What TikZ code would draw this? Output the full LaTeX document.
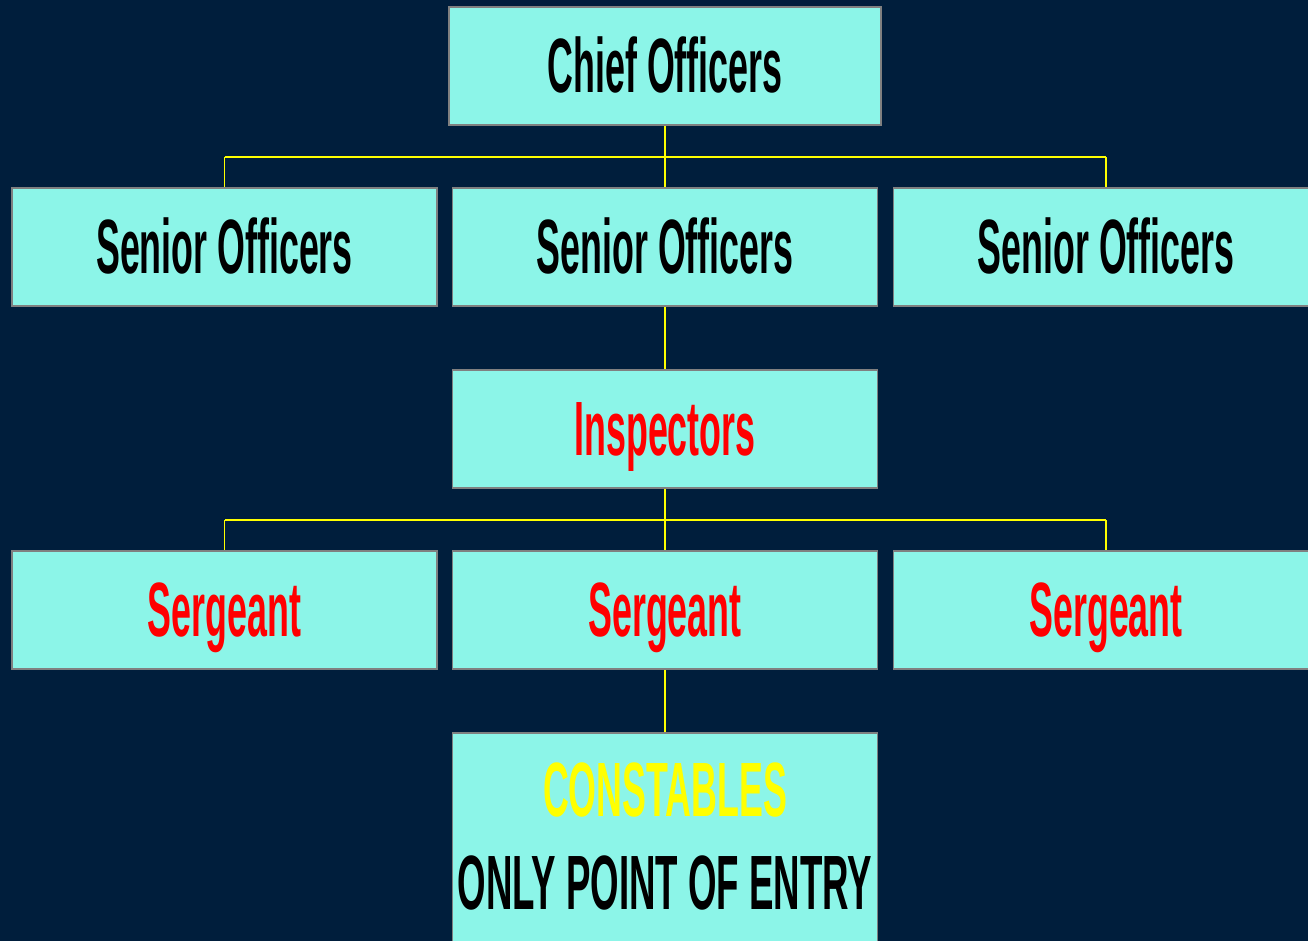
\documentclass[tikz,border=0pt]{standalone}
\usepackage{fontspec}
\setmainfont{Liberation Sans}
\definecolor{bgnavy}{RGB}{0,30,60}
\definecolor{boxfill}{RGB}{140,245,232}
\definecolor{boxedge}{RGB}{128,128,128}
\definecolor{linkyellow}{RGB}{255,255,0}
\definecolor{txtred}{RGB}{255,0,0}
\newcommand{\cond}[1]{\scalebox{0.465}[1]{#1}}
\tikzset{
  rankbox/.style={rectangle, draw=boxedge, line width=1.5pt, fill=boxfill,
    minimum width=425pt, minimum height=118pt, inner sep=0pt,
    text height=53pt, text depth=0pt,
    font=\fontsize{77}{93}\selectfont\bfseries},
  link/.style={draw=linkyellow, line width=1.3pt},
  bar/.style={draw=linkyellow, line width=2pt},
  lbl/.style={inner sep=0pt, font=\fontsize{77}{93}\selectfont\bfseries, align=center},
}
\begin{document}
\begin{tikzpicture}[x=1pt,y=-1pt]
\useasboundingbox (0,0) rectangle (1308,941);
\clip (0,0) rectangle (1308,941);
\fill[bgnavy] (0,0) rectangle (1308,941);

\node[rankbox, minimum width=432pt] (chief) at (665,66) {\cond{Chief Officers}};

\node[rankbox] (sen1) at (224.5,247) {\cond{Senior Officers}};
\node[rankbox] (sen2) at (665,247) {\cond{Senior Officers}};
\node[rankbox] (sen3) at (1106,247) {\cond{Senior Officers}};

\node[rankbox, text=txtred] (insp) at (665,429) {\cond{Inspectors}};

\node[rankbox, text=txtred] (serg1) at (224.5,610) {\cond{Sergeant}};
\node[rankbox, text=txtred] (serg2) at (665,610) {\cond{Sergeant}};
\node[rankbox, text=txtred] (serg3) at (1106,610) {\cond{Sergeant}};

\node[rankbox, minimum height=230pt, text height=0pt] (const) at (665,848) {};
\node[lbl] (consttxt) at (665,836) {\cond{\textcolor{linkyellow}{CONSTABLES}}\\\scalebox{0.476}[1]{ONLY POINT OF ENTRY}};

\coordinate (bar1) at (665,157);
\coordinate (bar2) at (665,520);

% top tier
\draw[link] (chief.south) -- (sen2.north);
\draw[bar] (sen1.north |- bar1) -- (sen3.north |- bar1);
\draw[link] (sen1.north |- bar1) -- (sen1.north);
\draw[link] (sen3.north |- bar1) -- (sen3.north);

\draw[link] (sen2.south) -- (insp.north);

% sergeant tier
\draw[link] (insp.south) -- (serg2.north);
\draw[bar] (serg1.north |- bar2) -- (serg3.north |- bar2);
\draw[link] (serg1.north |- bar2) -- (serg1.north);
\draw[link] (serg3.north |- bar2) -- (serg3.north);

\draw[link] (serg2.south) -- (const.north);
\end{tikzpicture}
\end{document}
